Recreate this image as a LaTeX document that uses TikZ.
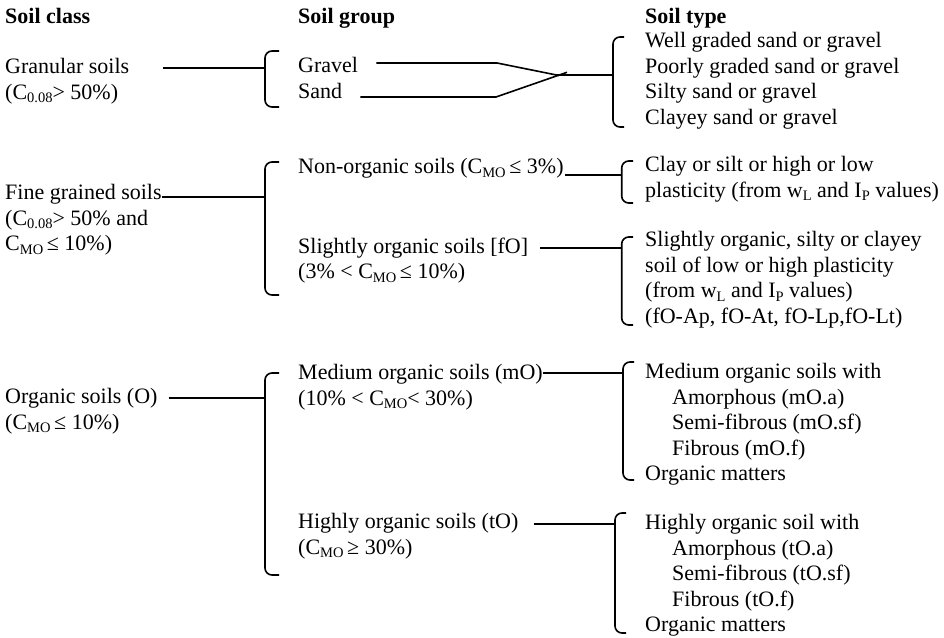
\documentclass[tikz,border=0pt]{standalone}
\usepackage{fontspec}
\setmainfont{Liberation Serif}
\newcommand{\lo}[1]{\raisebox{-3.5pt}{\fontsize{14.5}{14.5}\selectfont #1}}
\begin{document}
\begin{tikzpicture}[x=1pt,y=-1pt,
  txt/.style={anchor=north west, inner sep=0pt, align=left, font=\fontsize{22}{25.5}\selectfont},
  hdr/.style={txt, font=\fontsize{22}{25.5}\selectfont\bfseries},
  ln/.style={line width=1.6pt},
  brk/.style={line width=1.6pt, rounded corners=7pt}]
\useasboundingbox (0,0) rectangle (944,637);
% headers
\node[hdr] (hclass) at (5,8.5) {Soil class};
\node[hdr] (hgroup) at (298,8.5) {Soil group};
\node[hdr] (htype) at (645,8.5) {Soil type};
% granular
\node[txt] (gran) at (5,58.5) {Granular soils\\(C\lo{0.08}> 50\%)};
\node[txt] (gravel) at (298,57.5) {Gravel};
\node[txt] (sand) at (298,83.5) {Sand};
\node[txt] (gtypes) at (645,32.5) {Well graded sand or gravel\\Poorly graded sand or gravel\\Silty sand or gravel\\Clayey sand or gravel};
\coordinate (b1) at (265,68);
\draw[brk] (279,51) -- (265,51) -- (265,107) -- (279,107);
\draw[ln] ([xshift=34pt]gran.north east |- b1) -- (b1);
\coordinate (gv1) at (497,63);
\coordinate (gv2) at (559,75.5);
\coordinate (sd1) at (496,97);
\coordinate (sd2) at (567,72.3);
\draw[ln] ([xshift=18pt]gravel.east |- gv1) -- (gv1) -- (gv2);
\draw[ln] ([xshift=18pt]sand.east |- sd1) -- (sd1) -- (sd2);
\coordinate (x1) at (555,75);
\coordinate (b2) at (613,75);
\draw[ln] (x1) -- (b2);
\draw[brk] (624,37) -- (613,37) -- (613,127) -- (624,127);
% fine grained
\node[txt] (fine) at (5,184.5) {Fine grained soils\\(C\lo{0.08}> 50\% and\\C\lo{MO}\,≤ 10\%)};
\coordinate (b3) at (265,196.7);
\draw[brk] (279,162) -- (265,162) -- (265,295) -- (279,295);
\draw[ln] (fine.north east |- b3) -- (b3);
\node[txt] (nonorg) at (298,158.5) {Non-organic soils (C\lo{MO}\,≤ 3\%)};
\coordinate (b4) at (621.7,175);
\draw[brk] (633,161) -- (621.7,161) -- (621.7,203) -- (633,203);
\draw[ln] ([xshift=1pt]nonorg.east |- b4) -- (b4);
\node[txt] (clay) at (645,156.5) {Clay or silt or high or low\\plasticity (from w\lo{L} and I\lo{P} values)};
\node[txt] (slight) at (298,237.5) {Slightly organic soils [fO]\\(3\% < C\lo{MO}\,≤ 10\%)};
\coordinate (b5) at (621.7,248);
\draw[brk] (633,237) -- (621.7,237) -- (621.7,325) -- (633,325);
\draw[ln] ([xshift=12pt]slight.north east |- b5) -- (b5);
\node[txt] (stype) at (645,231.5) {Slightly organic, silty or clayey\\soil of low or high plasticity\\(from w\lo{L} and I\lo{P} values)\\(fO-Ap, fO-At, fO-Lp,fO-Lt)};
% organic
\node[txt] (org) at (5,388.5) {Organic soils (O)\\(C\lo{MO}\,≤ 10\%)};
\coordinate (b6) at (265,398);
\draw[brk] (279,373) -- (265,373) -- (265,575) -- (279,575);
\draw[ln] ([xshift=11pt]org.north east |- b6) -- (b6);
\node[txt] (medium) at (298,364.5) {Medium organic soils (mO)\\(10\% < C\lo{MO}< 30\%)};
\coordinate (b7) at (623,373);
\draw[brk] (634,362) -- (623,362) -- (623,480) -- (634,480);
\draw[ln] (medium.north east |- b7) -- (b7);
\node[txt] (mtype) at (645,363.5) {Medium organic soils with\\\hspace*{27pt}Amorphous (mO.a)\\\hspace*{27pt}Semi-fibrous (mO.sf)\\\hspace*{27pt}Fibrous (mO.f)\\Organic matters};
\node[txt] (highly) at (298,513.5) {Highly organic soils (tO)\\(C\lo{MO}\,≥ 30\%)};
\coordinate (b8) at (615,524);
\draw[brk] (626,513) -- (615,513) -- (615,633) -- (626,633);
\draw[ln] ([xshift=15pt]highly.north east |- b8) -- (b8);
\node[txt] (ttype) at (645,514.5) {Highly organic soil with\\\hspace*{27pt}Amorphous (tO.a)\\\hspace*{27pt}Semi-fibrous (tO.sf)\\\hspace*{27pt}Fibrous (tO.f)\\Organic matters};
\end{tikzpicture}
\end{document}
